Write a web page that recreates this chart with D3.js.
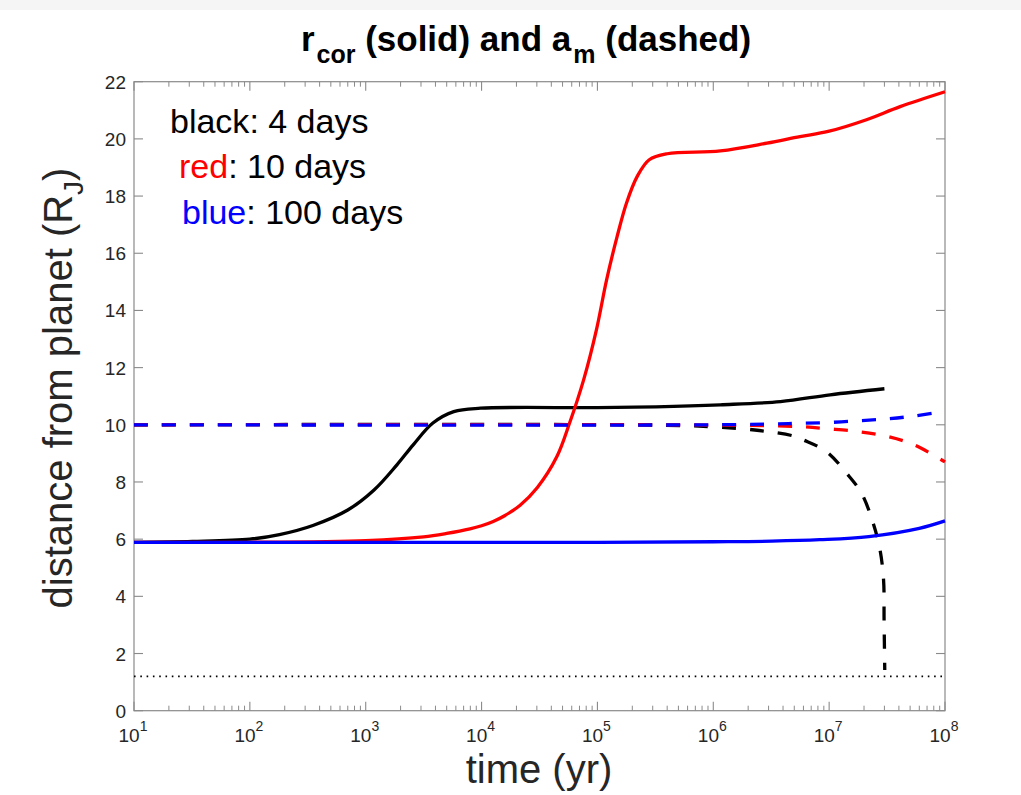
<!DOCTYPE html>
<html><head><meta charset="utf-8">
<script src="https://cdn.jsdelivr.net/npm/d3@7"></script>
<style>body{margin:0;background:#fff}svg{display:block}text{font-family:"Liberation Sans",Arial,Helvetica,sans-serif}</style>
</head><body>
<svg id="c" width="1021" height="795"></svg>
<script>
// ---- data ----
const xTickExponents = [1,2,3,4,5,6,7,8];
const yTicks = [0,2,4,6,8,10,12,14,16,18,20,22];

const blackSolidT = [10,32,100,180,350,700,1180,1860,2570,3800,5750,9800,1e5,3.2e5,1.15e6,3.8e6,1.02e7,3.0e7];
const blackSolidR = [5.89,5.92,6.0,6.16,6.48,7.02,7.72,8.60,9.30,10.06,10.46,10.58,10.60,10.63,10.70,10.81,11.05,11.26];

const redSolidT = [10,100,1000,3160,5000,7940,1e4,1.26e4,1.58e4,2.14e4,3.02e4,4.47e4,5.75e4,7.6e4,9.8e4,1.2e5,1.48e5,1.78e5,2.2e5,2.8e5,4.0e5,1.15e6,2.9e6,5.6e6,9.8e6,2.1e7,4.1e7,1e8];
const redSolidR = [5.89,5.89,5.95,6.08,6.20,6.36,6.47,6.62,6.82,7.18,7.80,8.89,10.06,11.57,13.32,15.07,16.59,17.75,18.68,19.27,19.48,19.58,19.85,20.08,20.26,20.67,21.13,21.65];

const blueSolidT = [10,1e5,1e6,3.2e6,8.3e6,2.2e7,6.0e7,1e8];
const blueSolidR = [5.89,5.89,5.91,5.93,5.98,6.09,6.38,6.64];

const blackDashT = [10,3.2e5,1e6,2.5e6,4.9e6,6.0e6,9.5e6,1.41e7,1.9e7,2.4e7,2.75e7,2.95e7,2.98e7,3.02e7];
const blackDashA = [10,9.99,9.93,9.80,9.61,9.47,9.06,8.31,7.61,6.56,5.62,4.57,3.17,1.42];

const redDashT = [10,1e6,5.4e6,9.8e6,1.8e7,3.2e7,5.4e7,1e8];
const redDashA = [10,9.99,9.94,9.86,9.76,9.59,9.30,8.70];

const blueDashT = [10,1e6,3.2e6,5.4e6,9.8e6,1.8e7,3.2e7,5.5e7,1e8];
const blueDashA = [10,10,10.03,10.05,10.08,10.14,10.21,10.31,10.47];

const rocheLevel = 1.2;
const rocheT = [10,1e8];

// ---- layout ----
const svg = d3.select("#c");
const L=134, R=945, T=81.7, B=710.7;
svg.append("rect").attr("x",0).attr("y",0).attr("width",1021).attr("height",10).attr("fill","#f5f5f5");

const x = d3.scaleLog().domain([10,1e8]).range([L,R]);
const y = d3.scaleLinear().domain([0,22]).range([B,T]);

const axisCol = "#8a8a8a", textCol = "#262626";
const g = svg.append("g");

g.append("rect").attr("x",L).attr("y",T).attr("width",R-L).attr("height",B-T)
 .attr("fill","none").attr("stroke",axisCol).attr("stroke-width",1.2);

const minor = [];
for (let e=1;e<8;e++) for (let m=2;m<=9;m++) minor.push(m*Math.pow(10,e));
xTickExponents.forEach(e=>{
  const px = x(Math.pow(10,e));
  g.append("line").attr("x1",px).attr("x2",px).attr("y1",B).attr("y2",B-9).attr("stroke",axisCol).attr("stroke-width",1.1);
  g.append("line").attr("x1",px).attr("x2",px).attr("y1",T).attr("y2",T+9).attr("stroke",axisCol).attr("stroke-width",1.1);
  const t = g.append("text").attr("x",px-1).attr("y",742).attr("text-anchor","middle")
    .attr("fill",textCol).attr("font-size",19);
  t.append("tspan").text("10");
  t.append("tspan").attr("dy",-11).attr("font-size",14).text(e);
});
minor.forEach(v=>{
  const px = x(v);
  g.append("line").attr("x1",px).attr("x2",px).attr("y1",B).attr("y2",B-5).attr("stroke",axisCol).attr("stroke-width",1);
  g.append("line").attr("x1",px).attr("x2",px).attr("y1",T).attr("y2",T+5).attr("stroke",axisCol).attr("stroke-width",1);
});
yTicks.forEach(v=>{
  const py = y(v);
  g.append("line").attr("x1",L).attr("x2",L+9).attr("y1",py).attr("y2",py).attr("stroke",axisCol).attr("stroke-width",1.1);
  g.append("line").attr("x1",R).attr("x2",R-9).attr("y1",py).attr("y2",py).attr("stroke",axisCol).attr("stroke-width",1.1);
  g.append("text").attr("x",126).attr("y",py+7).attr("text-anchor","end")
    .attr("fill",textCol).attr("font-size",19).text(v);
});

// ---- lines ----
function pairs(ts, vs){ return ts.map((t,i)=>[t,vs[i]]); }
const line = d3.line().x(d=>x(d[0])).y(d=>y(d[1])).curve(d3.curveCatmullRom.alpha(0.5));
const plot = svg.append("g");
function draw(data, color, dash, width){
  plot.append("path").attr("d",line(data)).attr("fill","none").attr("stroke",color)
    .attr("stroke-width",width||3.3).attr("stroke-dasharray",dash||null);
}
draw(pairs(blackSolidT,blackSolidR),"#000");
draw(pairs(blackDashT,blackDashA),"#000","14,14");
draw(pairs(redSolidT,redSolidR),"#ff0000");
draw(pairs(redDashT,redDashA),"#ff0000","14,14");
draw(pairs(blueSolidT,blueSolidR),"#0000ff");
draw(pairs(blueDashT,blueDashA),"#0000ff","14,14");
plot.append("path").attr("d",d3.line().x(d=>x(d[0])).y(d=>y(d[1]))(rocheT.map(t=>[t,rocheLevel]))).attr("fill","none")
  .attr("stroke","#000").attr("stroke-width",1.6).attr("stroke-dasharray","1.6,4.7");

// ---- title ----
const title = svg.append("text").attr("x",526).attr("y",51).attr("text-anchor","middle")
  .attr("font-size",35).attr("font-weight","bold").attr("fill","#000");
title.append("tspan").text("r");
title.append("tspan").attr("dx",2).attr("dy",12).attr("font-size",25).text("cor");
title.append("tspan").attr("dy",-12).text(" (solid) and a");
title.append("tspan").attr("dx",2).attr("dy",12).attr("font-size",25).text("m");
title.append("tspan").attr("dy",-12).text(" (dashed)");

// axis labels
svg.append("text").attr("x",539).attr("y",783).attr("text-anchor","middle")
  .attr("font-size",40).attr("fill",textCol).text("time (yr)");
const yl = svg.append("text").attr("transform","translate(72,388) rotate(-90)").attr("text-anchor","middle")
  .attr("font-size",40).attr("fill",textCol);
yl.append("tspan").text("distance from planet (R");
yl.append("tspan").attr("dy",11).attr("font-size",28).text("J");
yl.append("tspan").attr("dy",-11).text(")");

// legend text
const leg = [
  {x:170,y:133,c:"#000",k:"black",r:": 4 days"},
  {x:179,y:178,c:"#ff0000",k:"red",r:": 10 days"},
  {x:182,y:224,c:"#0000ff",k:"blue",r:": 100 days"}
];
leg.forEach(d=>{
  const t = svg.append("text").attr("x",d.x).attr("y",d.y).attr("font-size",34).attr("fill","#000");
  t.append("tspan").attr("fill",d.c).text(d.k);
  t.append("tspan").text(d.r);
});
</script>
</body></html>
